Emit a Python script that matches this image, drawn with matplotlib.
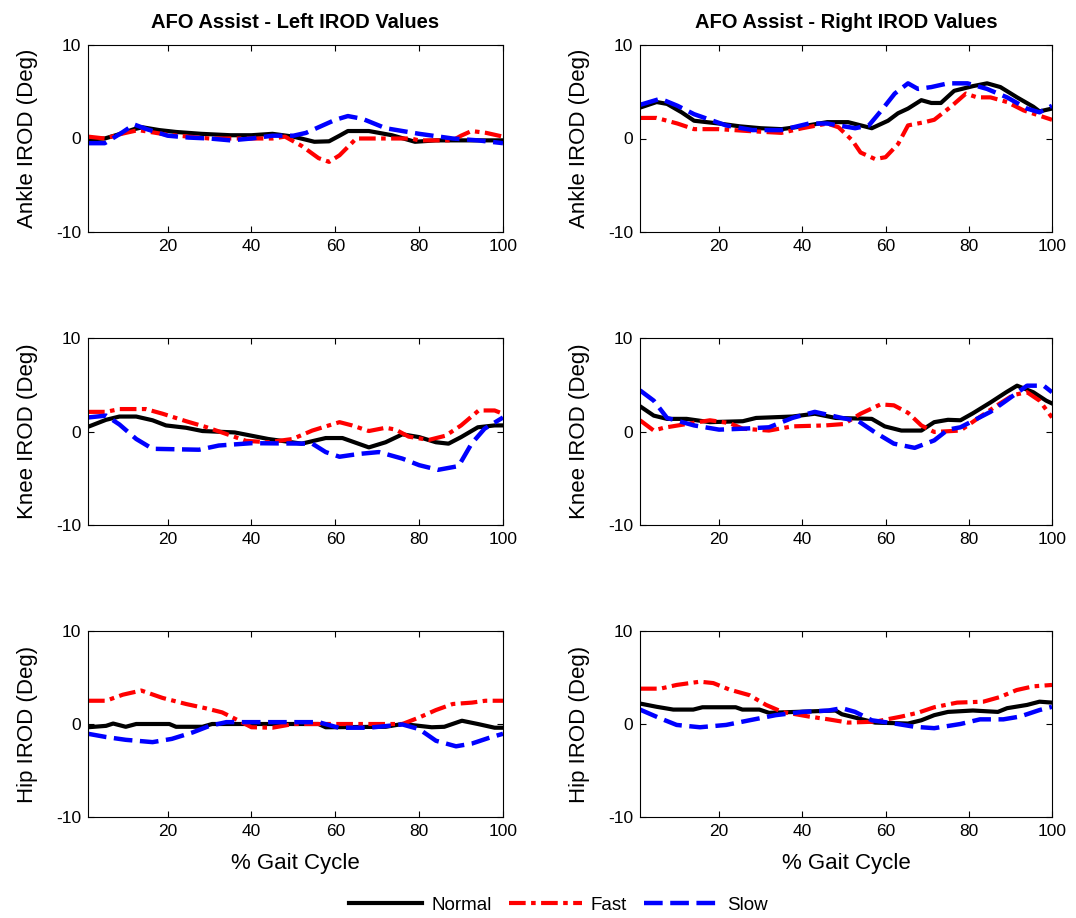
import matplotlib
matplotlib.use("Agg")
import matplotlib.pyplot as plt

plt.rcParams['font.family'] = ['Liberation Sans', 'DejaVu Sans']
plt.rcParams['axes.unicode_minus'] = False

# ---------------- data ----------------
# Top-left: Ankle, Left
al_n_x = [1, 5, 8, 12, 14, 18, 22, 28, 35, 40, 45, 50, 55, 58.5, 61, 63, 68, 73.5, 79, 84, 88, 94, 100]
al_n_y = [-0.1, 0, 0.4, 1.0, 1.2, 0.9, 0.7, 0.5, 0.35, 0.35, 0.5, 0.2, -0.35, -0.3, 0.3, 0.8, 0.8, 0.35, -0.35, -0.2, -0.2, -0.2, -0.2]
al_f_x = [1, 5, 9, 13, 20, 25, 30, 40, 45, 48, 52, 56, 58.5, 61, 65, 70, 78, 80, 88, 90, 92.5, 96, 100]
al_f_y = [0.2, 0, 0.5, 0.9, 0.4, 0.2, 0, 0, 0, 0.2, -0.8, -2.1, -2.5, -1.8, 0, 0, 0, -0.2, -0.2, 0.3, 0.8, 0.6, 0.2]
al_s_x = [1, 5, 9, 12, 15, 20, 25, 30, 35, 40, 45, 50, 53, 56, 60, 63, 66.5, 72, 76, 80, 88, 94, 100]
al_s_y = [-0.5, -0.5, 0.6, 1.5, 1.0, 0.3, 0.1, 0, -0.2, 0, 0.3, 0.3, 0.6, 1.2, 2.0, 2.4, 2.1, 1.1, 0.8, 0.5, 0, -0.2, -0.5]

# Top-right: Ankle, Right
ar_n_x = [1, 5, 7.5, 11, 14, 20, 25, 30, 35, 40, 46, 51, 56.7, 60.6, 63, 65.4, 68.6, 71, 73.3, 76.5, 81, 84.4, 87.6, 91.6, 95.5, 97, 100]
ar_n_y = [3.3, 3.9, 3.7, 2.8, 1.9, 1.6, 1.3, 1.1, 1.0, 1.3, 1.75, 1.75, 1.1, 1.9, 2.7, 3.2, 4.1, 3.8, 3.8, 5.1, 5.6, 5.9, 5.5, 4.4, 3.4, 2.9, 3.2]
ar_f_x = [1, 5, 10, 14, 20, 27, 35, 40, 46, 48.7, 52, 54, 57.5, 60, 63, 65.4, 69.4, 71.7, 75.7, 79.3, 82, 85.2, 89.2, 93.2, 100]
ar_f_y = [2.2, 2.2, 1.6, 1.0, 1.0, 0.8, 0.6, 1.1, 1.6, 1.2, -0.2, -1.5, -2.2, -2.0, -0.6, 1.4, 1.75, 2.0, 3.4, 4.8, 4.4, 4.4, 3.9, 3.0, 2.0]
ar_s_x = [1, 5.9, 10, 14, 21.7, 28, 35, 41.6, 46, 52.7, 56, 59, 62.2, 65.4, 67.8, 71, 75, 79.7, 84.4, 89.2, 94, 97, 100]
ar_s_y = [3.6, 4.25, 3.5, 2.6, 1.4, 0.9, 0.9, 1.6, 1.6, 1.1, 1.4, 3.0, 4.8, 5.9, 5.3, 5.5, 5.9, 5.9, 5.3, 4.4, 3.2, 2.8, 3.5]

# Middle-left: Knee, Left
kl_n_x = [1, 5.3, 8.5, 12.5, 16.4, 19.6, 24.4, 28.3, 36, 44, 52, 57.7, 61.7, 68, 72, 76, 80, 84, 87, 90, 94, 98, 100]
kl_n_y = [0.5, 1.25, 1.6, 1.6, 1.2, 0.65, 0.4, 0.05, -0.1, -0.8, -1.3, -0.7, -0.7, -1.7, -1.15, -0.3, -0.6, -1.15, -1.3, -0.6, 0.45, 0.65, 0.65]
kl_f_x = [1, 5.3, 8.5, 14.8, 18.8, 24.4, 29, 33.9, 38.7, 44, 49.8, 54.5, 61, 64, 68, 72, 74.4, 77.5, 82.3, 86.3, 90, 94.2, 98, 100]
kl_f_y = [2.1, 2.1, 2.4, 2.4, 1.9, 1.1, 0.5, -0.25, -1.0, -1.15, -0.8, 0.1, 1.0, 0.65, 0.05, 0.4, 0.2, -0.55, -0.9, -0.45, 0.65, 2.25, 2.25, 1.9]
kl_s_x = [1, 5.3, 8.5, 12.5, 16.4, 27.5, 32.2, 40, 54.5, 57.7, 61, 65.6, 70.4, 76, 80, 84.5, 89.4, 92.5, 95.6, 100]
kl_s_y = [1.5, 1.7, 0.75, -0.8, -1.85, -1.95, -1.5, -1.25, -1.3, -2.2, -2.7, -2.4, -2.2, -2.9, -3.6, -4.1, -3.7, -1.3, 0.3, 1.5]

# Middle-right: Knee, Right
kr_n_x = [1, 4.3, 7.5, 12.2, 17.8, 25.7, 28.9, 37.6, 43, 48, 56.7, 59.8, 63.8, 68.6, 71.7, 75, 78, 81, 85.2, 89, 91.6, 95.5, 98.6, 100]
kr_n_y = [2.7, 1.7, 1.35, 1.35, 1.0, 1.1, 1.45, 1.6, 1.9, 1.45, 1.35, 0.55, 0.1, 0.1, 1.0, 1.25, 1.2, 1.95, 3.1, 4.2, 4.9, 4.2, 3.3, 3.0]
kr_f_x = [1, 4.3, 6.7, 12.2, 17.8, 22.5, 25.7, 32, 37.6, 45.5, 50, 54, 58.8, 62, 65.4, 68.6, 71.7, 78, 82, 86.8, 90.7, 94, 97, 100]
kr_f_y = [1.2, 0.1, 0.4, 0.8, 1.2, 0.9, 0.3, 0.1, 0.55, 0.65, 0.8, 1.9, 2.9, 2.8, 2.0, 0.65, -0.05, 0.1, 1.35, 2.8, 3.9, 4.2, 3.3, 1.5]
kr_s_x = [1, 4.3, 7.5, 14, 20, 25.7, 32, 37.6, 43, 49.5, 53.5, 57.5, 62, 67, 71.7, 75, 78, 85.2, 89, 94, 98, 100]
kr_s_y = [4.4, 3.3, 1.45, 0.65, 0.2, 0.3, 0.45, 1.45, 2.1, 1.45, 1.1, -0.1, -1.3, -1.75, -0.95, 0.2, 0.45, 2.1, 3.3, 4.9, 4.9, 4.2]

# Bottom-left: Hip, Left
hl_n_x = [1, 5.3, 7, 10, 12.5, 20.4, 22, 28.3, 30.6, 56, 57.7, 72, 76, 83, 86, 90.2, 94, 98, 100]
hl_n_y = [-0.35, -0.2, 0.05, -0.3, 0, 0, -0.3, -0.3, 0, 0, -0.35, -0.3, 0, -0.35, -0.3, 0.35, 0, -0.4, -0.4]
hl_f_x = [1, 5.3, 9.3, 13.7, 18.8, 24.4, 29, 33, 37, 40, 45, 50, 76, 80, 84, 88, 92.6, 95.8, 100]
hl_f_y = [2.5, 2.5, 3.15, 3.6, 2.8, 2.15, 1.7, 1.25, 0.35, -0.35, -0.4, 0, 0, 0.7, 1.5, 2.15, 2.3, 2.5, 2.5]
hl_s_x = [1, 5.3, 10, 16.4, 21, 26, 30, 34, 56, 60.8, 68, 76, 80, 84, 88.8, 92.6, 96.6, 100]
hl_s_y = [-1.05, -1.4, -1.7, -1.95, -1.6, -0.9, -0.2, 0.2, 0.2, -0.4, -0.4, -0.05, -0.55, -1.8, -2.4, -2.1, -1.5, -1.05]

# Bottom-right: Hip, Right
hr_n_x = [1, 5, 9, 13.8, 16, 24, 25.6, 29.7, 32, 48, 49.5, 53.5, 57.5, 65.4, 68.6, 71.7, 75, 81, 87, 89.2, 94, 97, 100]
hr_n_y = [2.2, 1.85, 1.55, 1.55, 1.8, 1.8, 1.55, 1.55, 1.2, 1.45, 1.05, 0.6, 0.15, 0.05, 0.4, 0.95, 1.3, 1.45, 1.3, 1.7, 2.05, 2.4, 2.3]
hr_f_x = [1, 5.9, 9.8, 15.4, 18.6, 22.5, 27.3, 31.3, 35.2, 41.6, 46.3, 51, 57.5, 63.8, 67.7, 71.7, 77.2, 83.5, 87.5, 91.5, 95.5, 100]
hr_f_y = [3.8, 3.8, 4.2, 4.55, 4.4, 3.7, 3.1, 2.05, 1.3, 0.8, 0.5, 0.15, 0.25, 0.8, 1.2, 1.8, 2.3, 2.4, 2.9, 3.65, 4.05, 4.2]
hr_s_x = [1, 5.9, 9.8, 15.4, 21.7, 27.3, 33.6, 40, 46.3, 49.5, 52.7, 56.7, 62.2, 67, 71.7, 78, 82.7, 88.3, 92.3, 97, 100]
hr_s_y = [1.55, 0.6, -0.1, -0.35, -0.1, 0.4, 0.95, 1.3, 1.45, 1.7, 1.3, 0.4, 0.05, -0.3, -0.45, 0, 0.5, 0.5, 0.8, 1.5, 1.85]

titles = ['AFO Assist - Left IROD Values', 'AFO Assist - Right IROD Values']
ylabels = ['Ankle IROD (Deg)', 'Knee IROD (Deg)', 'Hip IROD (Deg)']
xlabel = '% Gait Cycle'
series_names = ['Normal', 'Fast', 'Slow']
x_ticks = [20, 40, 60, 80, 100]
y_ticks = [-10, 0, 10]

panels = [
    [((al_n_x, al_n_y), (al_f_x, al_f_y), (al_s_x, al_s_y)),
     ((ar_n_x, ar_n_y), (ar_f_x, ar_f_y), (ar_s_x, ar_s_y))],
    [((kl_n_x, kl_n_y), (kl_f_x, kl_f_y), (kl_s_x, kl_s_y)),
     ((kr_n_x, kr_n_y), (kr_f_x, kr_f_y), (kr_s_x, kr_s_y))],
    [((hl_n_x, hl_n_y), (hl_f_x, hl_f_y), (hl_s_x, hl_s_y)),
     ((hr_n_x, hr_n_y), (hr_f_x, hr_f_y), (hr_s_x, hr_s_y))],
]

# ---------------- styling ----------------
styles = [
    dict(color='black', lw=3.0, linestyle='-'),
    dict(color='#ff0000', lw=3.0, linestyle=(0, (4.0, 1.3, 1.1, 1.3))),
    dict(color='#0000ff', lw=3.2, linestyle=(0, (4.2, 1.7))),
]

W, H = 1076, 918
fig = plt.figure(figsize=(W / 100, H / 100), dpi=100)

col_lr = [(88, 503), (640, 1052)]
row_tb = [(45, 232), (338, 525), (631, 817)]

handles = []
for r in range(3):
    for c in range(2):
        l, rr = col_lr[c]
        t, b = row_tb[r]
        ax = fig.add_axes([l / W, 1 - b / H, (rr - l) / W, (b - t) / H])
        for k, (xs, ys) in enumerate(panels[r][c]):
            ln, = ax.plot(xs, ys, **styles[k], label=series_names[k])
            if r == 0 and c == 0:
                handles.append(ln)
        ax.set_xlim(1, 100)
        ax.set_ylim(-10, 10)
        ax.set_xticks(x_ticks)
        ax.set_yticks(y_ticks)
        ax.tick_params(direction='in', length=4, width=0.8, top=True, right=True,
                       labelsize=12.5, pad=5)
        for sp in ax.spines.values():
            sp.set_linewidth(0.8)
        ax.set_ylabel(ylabels[r], fontsize=16, labelpad=13)
        if r == 0:
            ax.set_title(titles[c], fontsize=14.5, fontweight='bold', pad=12)
        if r == 2:
            ax.set_xlabel(xlabel, fontsize=16, labelpad=10)

fig.legend(handles=handles, labels=series_names, loc='center',
           bbox_to_anchor=(558 / W, 1 - 905 / H), ncol=3, frameon=False,
           fontsize=13.5, handlelength=3.9, handletextpad=0.5, columnspacing=0.9)

fig.savefig('out.png', dpi=100)
